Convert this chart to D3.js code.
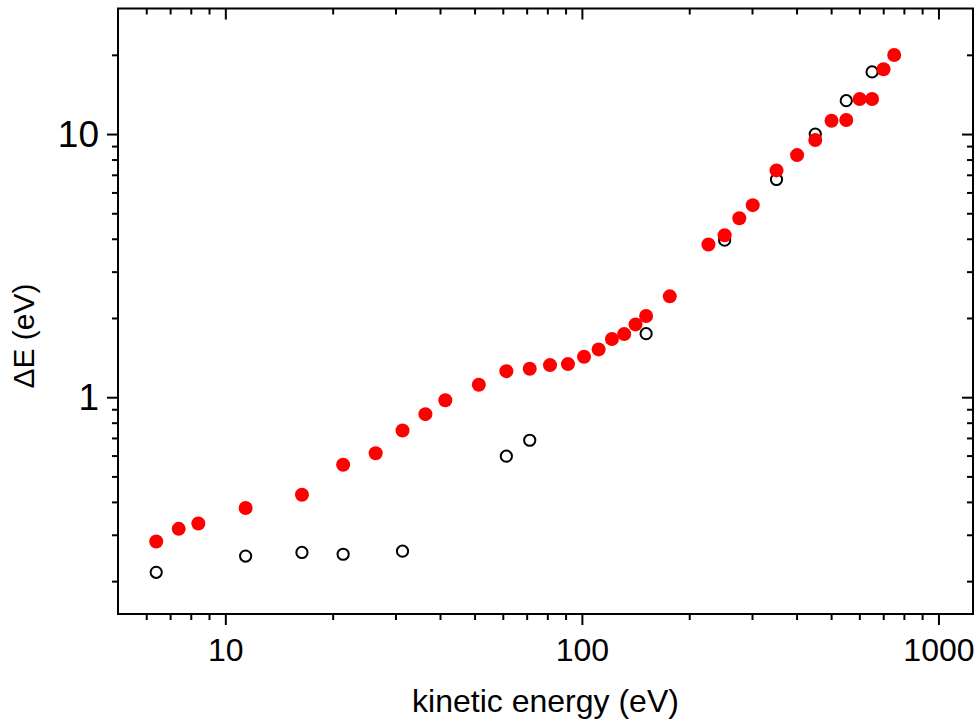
<!DOCTYPE html>
<html>
<head>
<meta charset="utf-8">
<script src="https://cdn.jsdelivr.net/npm/d3@7"></script>
<style>
  body { margin: 0; background: #fff; }
  text { font-family: "Liberation Sans", Arial, sans-serif; fill: #000; }
</style>
</head>
<body>
<script>
// pontos cheios (vermelhos)
const energiaCheio = [6.4, 7.4, 8.4, 11.4, 16.4, 21.4, 26.4, 31.4, 36.4, 41.4, 51.4, 61.4, 71.4, 81.4, 91.4,
  101.4, 111.4, 121.4, 131.4, 141.4, 151.4, 176.4, 226.4, 251.4, 276.4, 301.4, 351.4, 401.4, 451.4, 501.4,
  551.4, 601.4, 651.4, 701.4, 751.4]
const deltaCheio = [0.283, 0.316, 0.331, 0.379, 0.426, 0.554, 0.612, 0.747, 0.862, 0.974, 1.115, 1.256, 1.283, 1.324, 1.336,
  1.425, 1.519, 1.663, 1.737, 1.891, 2.034, 2.417, 3.803, 4.126, 4.788, 5.367, 7.274, 8.318, 9.488, 11.24,
  11.31, 13.59, 13.59, 17.63, 19.98]

// pontos abertos
const energiaAberto = [6.4, 11.4, 16.4, 21.4, 31.4, 61.4, 71.4, 151.4, 251.4, 351.4, 451.4, 551.4, 651.4]
const deltaAberto = [0.216, 0.249, 0.257, 0.253, 0.260, 0.597, 0.686, 1.743, 3.95, 6.72, 10.0, 13.39, 17.22]

const ticksX = [10, 100, 1000]
const ticksY = [1, 10]
const dominioX = [5, 1250]
const dominioY = [0.15, 30]

const largura = 978
const altura = 720
const margem = {esquerda: 118, direita: 5, topo: 8.5, base: 106}

var svg = d3.select('body').append('svg')
  .attr('width', largura)
  .attr('height', altura)

var x = d3.scaleLog().domain(dominioX).range([margem.esquerda, largura - margem.direita])
var y = d3.scaleLog().domain(dominioY).range([altura - margem.base, margem.topo])

var menoresX = x.ticks().filter(function (d) { return ticksX.indexOf(d) < 0 && d > dominioX[0] })
var menoresY = y.ticks().filter(function (d) { return ticksY.indexOf(d) < 0 && d > dominioY[0] && d < dominioY[1] })

var yBase = altura - margem.base
var xDir = largura - margem.direita

function eixo(gerador, valores, tamanho, formato) {
  return gerador.tickValues(valores).tickSize(tamanho).tickSizeOuter(0)
    .tickFormat(formato ? function (d) { return d } : '')
}

function desenhaEixo(transform, ax, fonte) {
  var g = svg.append('g').attr('transform', transform).call(ax)
  g.select('.domain').remove()
  g.selectAll('line').attr('stroke', '#000').attr('stroke-width', 2)
  g.selectAll('text').attr('font-size', fonte).attr('fill', '#000')
    .style('font-family', '"Liberation Sans", Arial, sans-serif')
  return g
}

// eixo de baixo
desenhaEixo('translate(0,' + yBase + ')', eixo(d3.axisBottom(x), ticksX, 11, true).tickPadding(13), 32)
desenhaEixo('translate(0,' + yBase + ')', eixo(d3.axisBottom(x), menoresX, 6, false))
// eixo de cima (para dentro)
desenhaEixo('translate(0,' + margem.topo + ')', eixo(d3.axisBottom(x), ticksX, 11, false))
desenhaEixo('translate(0,' + margem.topo + ')', eixo(d3.axisBottom(x), menoresX, 6, false))
// eixo esquerda
var gEsquerda = desenhaEixo('translate(' + margem.esquerda + ',0)', eixo(d3.axisLeft(y), ticksY, 11, true).tickPadding(8), 37)
desenhaEixo('translate(' + margem.esquerda + ',0)', eixo(d3.axisLeft(y), menoresY, 6, false))
// eixo direita (para dentro)
desenhaEixo('translate(' + xDir + ',0)', eixo(d3.axisLeft(y), ticksY, 11, false))
desenhaEixo('translate(' + xDir + ',0)', eixo(d3.axisLeft(y), menoresY, 6, false))

gEsquerda.selectAll('text').attr('dy', '0.33em')

// moldura
svg.append('rect')
  .attr('x', margem.esquerda)
  .attr('y', margem.topo)
  .attr('width', xDir - margem.esquerda)
  .attr('height', yBase - margem.topo)
  .attr('fill', 'none')
  .attr('stroke', '#000')
  .attr('stroke-width', 2)

var dadosAberto = energiaAberto.map(function (e, i) { return {e: e, d: deltaAberto[i]} })
var dadosCheio = energiaCheio.map(function (e, i) { return {e: e, d: deltaCheio[i]} })

svg.append('g').selectAll('circle').data(dadosAberto).enter().append('circle')
  .attr('cx', function (d) { return x(d.e) })
  .attr('cy', function (d) { return y(d.d) })
  .attr('r', 5.6)
  .attr('fill', 'none')
  .attr('stroke', '#000')
  .attr('stroke-width', 2)

svg.append('g').selectAll('circle').data(dadosCheio).enter().append('circle')
  .attr('cx', function (d) { return x(d.e) })
  .attr('cy', function (d) { return y(d.d) })
  .attr('r', 7)
  .attr('fill', '#ff0000')

// titulos
svg.append('text')
  .attr('x', (margem.esquerda + xDir) / 2)
  .attr('y', 712)
  .attr('text-anchor', 'middle')
  .attr('font-size', 32)
  .text('kinetic energy (eV)')

svg.append('text')
  .attr('transform', 'translate(34,336) rotate(-90)')
  .attr('text-anchor', 'middle')
  .attr('font-size', 30)
  .text('ΔE (eV)')
</script>
</body>
</html>
